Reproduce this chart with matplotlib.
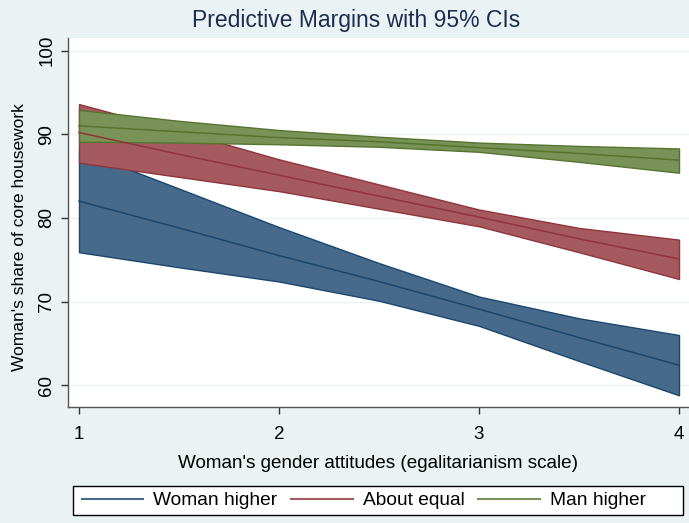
import matplotlib
matplotlib.use("Agg")
import matplotlib.pyplot as plt
from matplotlib.lines import Line2D
from matplotlib.patches import Rectangle

plt.rcParams['font.family'] = ['Liberation Sans', 'DejaVu Sans']

# ---- data ----
x_vals = [1, 1.5, 2, 2.5, 3, 3.5, 4]
series = ["Woman higher", "About equal", "Man higher"]

woman_mid = [82.0, 78.8, 75.5, 72.4, 69.1, 65.7, 62.4]
woman_lo = [75.9, 74.1, 72.4, 70.1, 67.1, 62.9, 58.8]
woman_hi = [88.1, 83.5, 78.9, 74.6, 70.6, 68.0, 66.0]

equal_mid = [90.2, 87.6, 85.1, 82.6, 80.1, 77.5, 75.1]
equal_lo = [86.6, 84.9, 83.2, 81.1, 79.0, 75.9, 72.7]
equal_hi = [93.6, 90.4, 87.0, 84.0, 81.0, 78.8, 77.4]

man_mid = [91.0, 90.3, 89.6, 89.1, 88.4, 87.7, 86.9]
man_lo = [89.1, 89.0, 88.8, 88.5, 87.9, 86.7, 85.4]
man_hi = [92.9, 91.6, 90.5, 89.7, 89.0, 88.6, 88.3]

y_ticks = [60, 70, 80, 90, 100]
x_ticks = [1, 2, 3, 4]

title = "Predictive Margins with 95% CIs"
xlabel = "Woman's gender attitudes (egalitarianism scale)"
ylabel = "Woman's share of core housework"

# ---- style ----
bg = "#EAF2F3"
line_colors = ["#1A476F", "#90353B", "#55752F"]
fill_colors = ["#476A8A", "#A55A5F", "#799257"]

fig = plt.figure(figsize=(6.89, 5.23), dpi=100, facecolor=bg)
W, H = 689, 523
left, right, top, bottom = 68, 689, 38, 407
ax = fig.add_axes([left / W, 1 - bottom / H, (right - left) / W, (bottom - top) / H])
ax.set_facecolor("white")

mids = [woman_mid, equal_mid, man_mid]
los = [woman_lo, equal_lo, man_lo]
his = [woman_hi, equal_hi, man_hi]

for i in range(3):
    ax.fill_between(x_vals, los[i], his[i], facecolor=fill_colors[i],
                    edgecolor=line_colors[i], linewidth=1.0, zorder=2 + i * 0.1)
for i in range(3):
    ax.plot(x_vals, mids[i], color=line_colors[i], linewidth=1.1, zorder=3)

ax.set_xlim(0.945, 4.05)
ax.set_ylim(57.4, 101.5)
ax.set_xticks(x_ticks)
ax.set_yticks(y_ticks)
ax.set_xticklabels([str(t) for t in x_ticks], fontsize=13.5)
ax.set_yticklabels([str(t) for t in y_ticks], fontsize=13.5, rotation=90, va="center")
ax.grid(axis="y", color=bg, linewidth=1.0, zorder=0)
ax.set_axisbelow(True)
for s in ["top", "right"]:
    ax.spines[s].set_visible(False)
for s in ["left", "bottom"]:
    ax.spines[s].set_color("#555555")
    ax.spines[s].set_linewidth(1.0)
ax.tick_params(direction="out", length=5, width=1, color="#333333", labelcolor="black")
ax.tick_params(axis="y", pad=4)
ax.tick_params(axis="x", pad=9)

ax.set_xlabel(xlabel, fontsize=13.6, labelpad=8)
ax.set_ylabel(ylabel, fontsize=12.5)
ax.yaxis.set_label_coords((27 - left) / (right - left), (bottom - 237) / (bottom - top))

fig.text(356 / W, 1 - 21 / H, title, ha="center", va="center",
         fontsize=16.5, color="#1E2D53")

# legend
fig.patches.append(Rectangle((73 / W, 1 - 515 / H), (683 - 73) / W, (515 - 486) / H,
                             transform=fig.transFigure, facecolor="white",
                             edgecolor="black", linewidth=1.0, zorder=1))
handles = [Line2D([0], [0], color=fill_colors[i], linewidth=1.5) for i in range(3)]
leg = fig.legend(handles, series, loc="center left", bbox_to_anchor=(82 / W, 1 - 500.5 / H),
                 ncol=3, fontsize=13.8, frameon=False, borderpad=0, borderaxespad=0,
                 handlelength=3.2, handletextpad=0.52, columnspacing=0.73)
leg.set_zorder(2)

fig.savefig("out.png", dpi=100, facecolor=bg)
